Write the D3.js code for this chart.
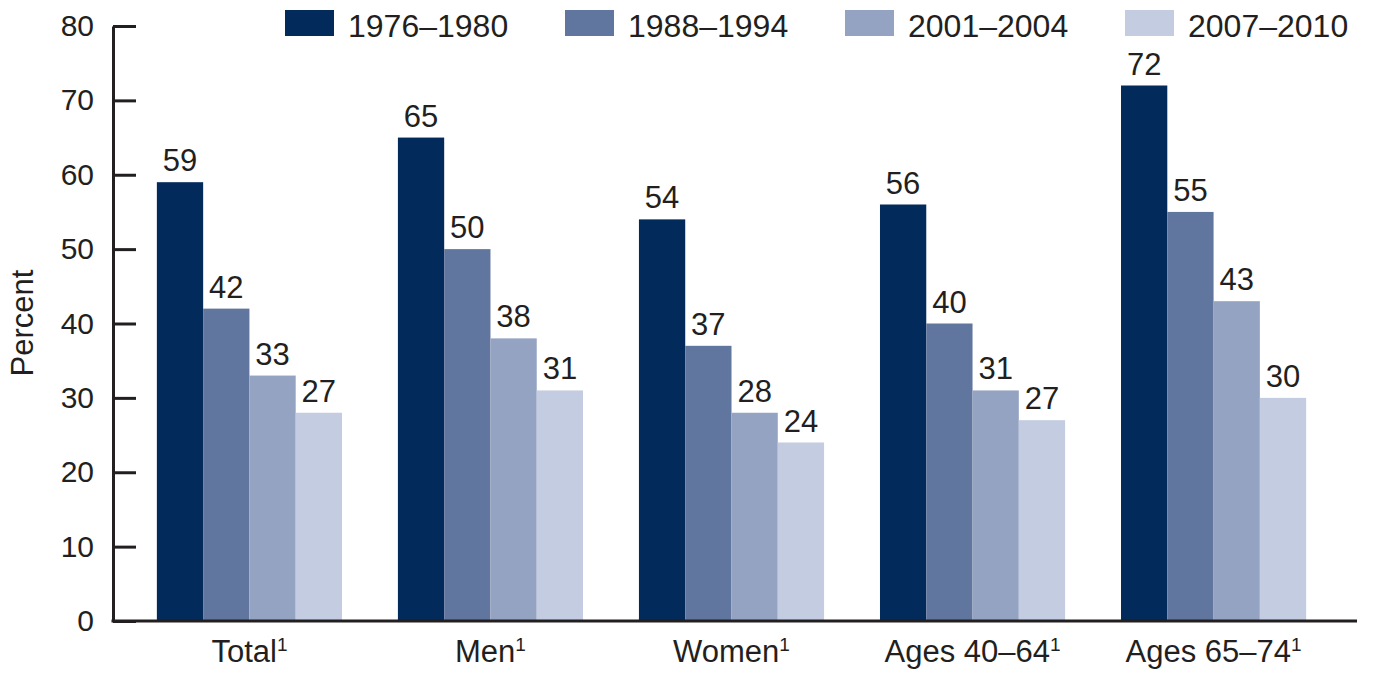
<!DOCTYPE html>
<html>
<head>
<meta charset="utf-8">
<script src="https://d3js.org/d3.v7.min.js"></script>
<style>
  body { margin: 0; background: #fff; }
  svg text { font-family: "Liberation Sans", Arial, Helvetica, sans-serif; fill: #231f20; }
</style>
</head>
<body>
<svg></svg>
<script>
///////////////////////////////////////////
// Data
var categories = ["Total", "Men", "Women", "Ages 40\u201364", "Ages 65\u201374"];
var periods = ["1976\u20131980", "1988\u20131994", "2001\u20132004", "2007\u20132010"];
var s1976 = [59, 65, 54, 56, 72];
var s1988 = [42, 50, 37, 40, 55];
var s2001 = [33, 38, 28, 31, 43];
var s2007 = [27, 31, 24, 27, 30];
// the printed 27 for Total 2007-2010 sits on a bar drawn at 28
var s2007Drawn = [28, 31, 24, 27, 30];
var yTicks = [0, 10, 20, 30, 40, 50, 60, 70, 80];
var colors = ["#022a5b", "#61769f", "#95a3c2", "#c3cce0"];

var printed = [s1976, s1988, s2001, s2007];
var drawn = [s1976, s1988, s2001, s2007Drawn];

///////////////////////////////////////////
// Layout
var svgWidth = 1373, svgHeight = 673;
var axisX = 113, axisRight = 1357,
    yTop = 26, yBottom = 621;
var ink = "#231f20";

var svg = d3.select("svg").attr("width", svgWidth).attr("height", svgHeight);

var y = d3.scaleLinear().domain([0, 80]).range([yBottom, yTop]);
var x0 = d3.scaleBand().domain(categories).range([axisX, 1350])
  .paddingInner(0.232).paddingOuter(0.182);
var x1 = d3.scaleBand().domain(d3.range(periods.length)).range([0, x0.bandwidth()]);

///////////////////////////////////////////
// Bars + value labels
var groups = svg.append("g").selectAll("g")
  .data(categories).join("g")
  .attr("transform", function(d){ return "translate(" + x0(d) + ",0)"; });

groups.each(function(cat, ci){
  var g = d3.select(this);
  periods.forEach(function(p, si){
    var v = drawn[si][ci];
    g.append("rect")
      .attr("x", x1(si))
      .attr("y", y(v))
      .attr("width", x1.bandwidth())
      .attr("height", y(0) - y(v))
      .attr("fill", colors[si]);
    g.append("text")
      .attr("x", x1(si) + x1.bandwidth()/2)
      .attr("y", y(v) - 11)
      .attr("text-anchor", "middle")
      .style("font-size", "31px")
      .text(printed[si][ci]);
  });
});

///////////////////////////////////////////
// Y axis
var yAxis = d3.axisLeft(y).tickValues(yTicks).tickSizeInner(-23).tickSizeOuter(0).tickPadding(19);
var yg = svg.append("g").attr("transform", "translate(" + axisX + ",0)").call(yAxis);
yg.select(".domain").attr("stroke", ink).attr("stroke-width", 3);
yg.selectAll(".tick line").attr("stroke", ink).attr("stroke-width", 3);
yg.selectAll(".tick text").style("font-size", "30px").attr("fill", ink)
  .style("font-family", "'Liberation Sans', Arial, sans-serif");

// X axis baseline
svg.append("line")
  .attr("x1", axisX - 1.5).attr("x2", axisRight)
  .attr("y1", y(0)).attr("y2", y(0))
  .attr("stroke", ink).attr("stroke-width", 3);

// category labels with footnote marker
var catText = svg.append("g").selectAll("text")
  .data(categories).join("text")
  .attr("x", function(d){ return x0(d) + x0.bandwidth()/2; })
  .attr("y", 662)
  .attr("text-anchor", "middle")
  .style("font-size", "31px");
catText.append("tspan").text(function(d){ return d; });
catText.append("tspan").attr("dy", -11).style("font-size", "19px").text("1");

// y title
svg.append("text")
  .attr("transform", "translate(33,323) rotate(-90)")
  .attr("text-anchor", "middle")
  .style("font-size", "31px")
  .text("Percent");

///////////////////////////////////////////
// Legend
var legend = svg.append("g").selectAll("g")
  .data(periods).join("g")
  .attr("transform", function(d, i){ return "translate(" + (285 + i*280) + ",0)"; });
legend.append("rect")
  .attr("x", 0).attr("y", 10).attr("width", 49).attr("height", 26)
  .attr("fill", function(d, i){ return colors[i]; });
legend.append("text")
  .attr("x", 63).attr("y", 37)
  .style("font-size", "32px")
  .text(function(d){ return d; });
</script>
</body>
</html>
